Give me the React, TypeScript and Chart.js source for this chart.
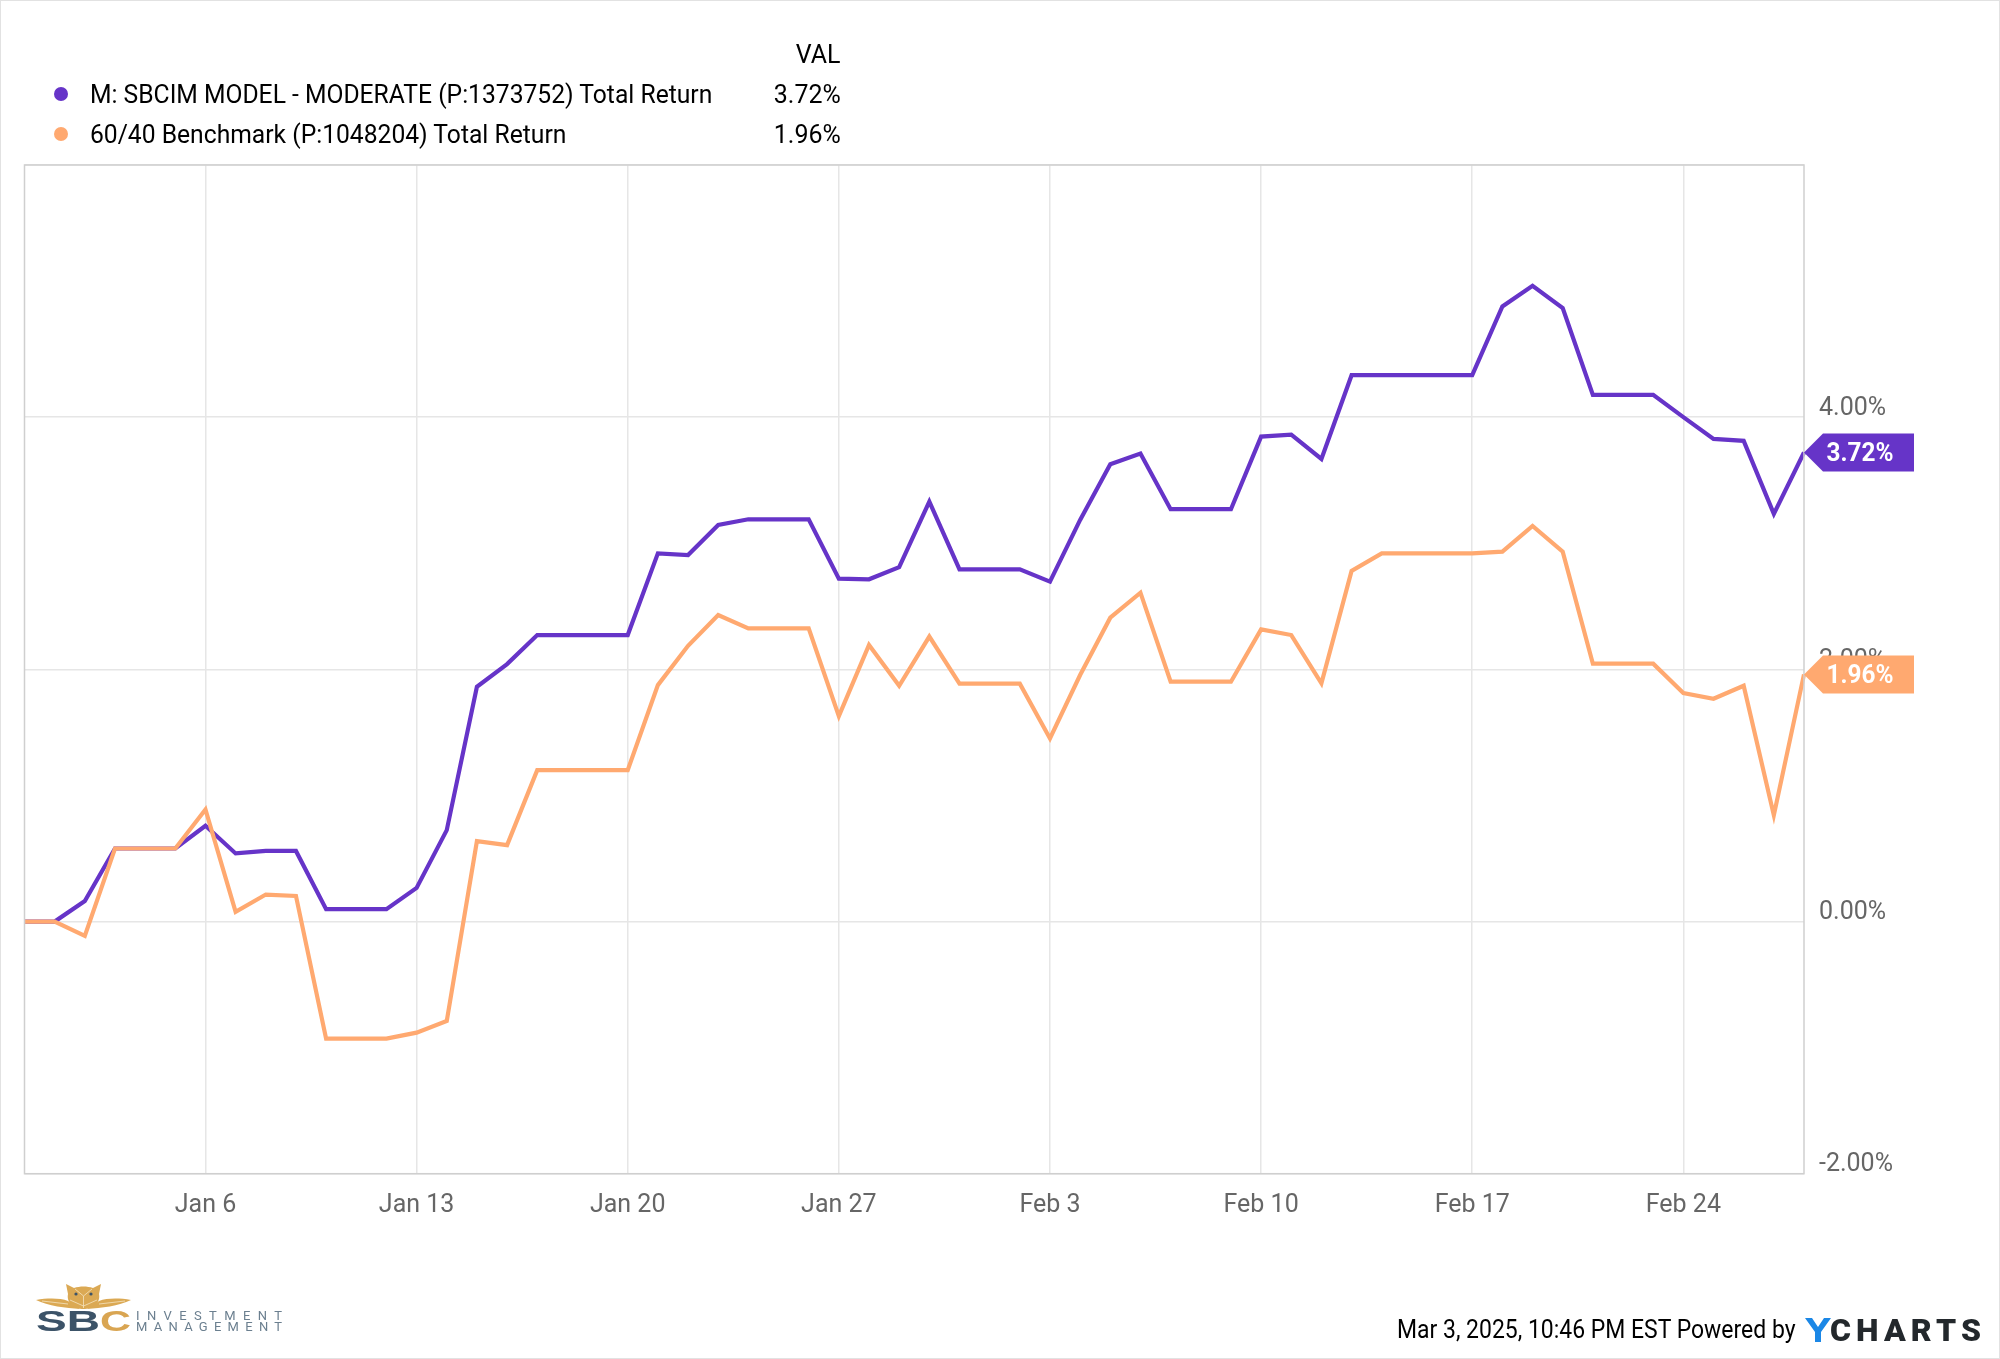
import React, { useEffect, useRef } from "react";
import { Chart, registerables } from "chart.js";

Chart.register(...registerables);

const dates = [
  "Dec 31","Jan 1","Jan 2","Jan 3","Jan 4","Jan 5","Jan 6","Jan 7","Jan 8","Jan 9","Jan 10","Jan 11","Jan 12","Jan 13","Jan 14",
  "Jan 15","Jan 16","Jan 17","Jan 18","Jan 19","Jan 20","Jan 21","Jan 22","Jan 23","Jan 24","Jan 25","Jan 26","Jan 27","Jan 28","Jan 29",
  "Jan 30","Jan 31","Feb 1","Feb 2","Feb 3","Feb 4","Feb 5","Feb 6","Feb 7","Feb 8","Feb 9","Feb 10","Feb 11","Feb 12","Feb 13",
  "Feb 14","Feb 15","Feb 16","Feb 17","Feb 18","Feb 19","Feb 20","Feb 21","Feb 22","Feb 23","Feb 24","Feb 25","Feb 26","Feb 27","Feb 28",
];
const weeklyTicks = ["Jan 6","Jan 13","Jan 20","Jan 27","Feb 3","Feb 10","Feb 17","Feb 24"];

const moderate = [
  0,0,0.163,0.579,0.579,0.579,0.759,0.54,0.56,0.56,0.098,0.098,0.098,0.267,0.725,
  1.862,2.042,2.272,2.272,2.272,2.272,2.92,2.907,3.145,3.19,3.19,3.19,2.719,2.714,2.81,
  3.33,2.793,2.793,2.793,2.696,3.185,3.627,3.711,3.27,3.27,3.27,3.846,3.862,3.669,4.333,
  4.333,4.333,4.333,4.333,4.878,5.042,4.865,4.177,4.177,4.177,4.0,3.828,3.812,3.233,3.72,
];
const benchmark = [
  0,0,-0.114,0.579,0.579,0.579,0.889,0.076,0.214,0.203,-0.929,-0.929,-0.929,-0.881,-0.789,
  0.637,0.606,1.201,1.201,1.201,1.201,1.875,2.187,2.431,2.325,2.325,2.325,1.629,2.193,1.87,
  2.26,1.886,1.886,1.886,1.452,1.955,2.41,2.608,1.902,1.902,1.902,2.317,2.272,1.889,2.78,
  2.92,2.92,2.92,2.92,2.933,3.137,2.933,2.045,2.045,2.045,1.812,1.767,1.87,0.844,1.96,
];

const seriesNames = ["M: SBCIM MODEL - MODERATE (P:1373752) Total Return", "60/40 Benchmark (P:1048204) Total Return"];
const lastValues = ["3.72%", "1.96%"];
const colors = ["#6634c8", "#ffa970"];
const footerText = "Mar 3, 2025, 10:46 PM EST Powered by";

const frame = {
  id: "frame",
  beforeDraw(chart: any) {
    const { ctx } = chart;
    ctx.save();
    ctx.fillStyle = "#fff";
    ctx.fillRect(0, 0, chart.width, chart.height);
    ctx.restore();
  },
  afterDatasetsDraw(chart: any) {
    const { ctx, chartArea: a } = chart;
    ctx.save();
    ctx.strokeStyle = "#cfcfcf";
    ctx.lineWidth = 1.5;
    ctx.strokeRect(a.left, a.top, a.right - a.left, a.bottom - a.top);
    ctx.restore();
  },
  afterDraw(chart: any) {
    const { ctx, chartArea: a, scales } = chart;
    const last = dates.length - 1;
    ctx.save();
    chart.data.datasets.forEach((d: any, i: number) => {
      const y = scales.y.getPixelForValue(d.data[last]);
      const h = 19;
      ctx.fillStyle = colors[i];
      ctx.beginPath();
      ctx.moveTo(a.right, y);
      ctx.lineTo(a.right + 19, y - h);
      ctx.lineTo(a.right + 110, y - h);
      ctx.lineTo(a.right + 110, y + h);
      ctx.lineTo(a.right + 19, y + h);
      ctx.closePath();
      ctx.fill();
      ctx.fillStyle = "#fff";
      ctx.font = "700 25px Roboto";
      ctx.textAlign = "center";
      ctx.textBaseline = "middle";
      ctx.fillText(lastValues[i], a.right + 56, y + 2, 67);
    });
    ctx.restore();
  },
};

function Logo() {
  return (
    <svg width="260" height="60" viewBox="0 0 260 60" style={{ position: "absolute", left: 30, top: 1280 }}>
      <g fill="#dba954">
        <path d="M6 20 C18 18 30 18 38 21 L50 29 C36 28 18 26 6 20 Z" />
        <path d="M101 20 C89 18 77 18 69 21 L57 29 C71 28 89 26 101 20 Z" />
        <path d="M36 4 L44 8 C50 6 57 6 63 8 L71 4 L69 14 C71 23 62 29 53.5 29 C45 29 36 23 38 14 Z" />
      </g>
      <g stroke="#f4e3c0" strokeWidth="0.8" fill="none">
        <path d="M45 9 L53.5 16 L62 9 M53.5 16 V28 M40 20 L53.5 26 L67 20" />
        <path d="M12 21 L38 24 M95 21 L69 24" />
      </g>
      <circle cx="46" cy="14" r="1.6" fill="#3c5368" />
      <circle cx="61" cy="14" r="1.6" fill="#3c5368" />
      <text x="6" y="51" fontFamily="Liberation Sans" fontWeight="700" fontSize="29" textLength="64" lengthAdjust="spacingAndGlyphs" fill="#3c5368">SB</text>
      <text x="70" y="51" fontFamily="Liberation Sans" fontWeight="700" fontSize="29" textLength="31" lengthAdjust="spacingAndGlyphs" fill="#d9a552">C</text>
      <text x="106" y="40" fontFamily="Roboto" fontSize="13" textLength="146" fill="#6b7f8f">INVESTMENT</text>
      <text x="106" y="51" fontFamily="Roboto" fontSize="13" textLength="146" fill="#6b7f8f">MANAGEMENT</text>
    </svg>
  );
}

export default function App() {
  const ref = useRef<HTMLCanvasElement>(null);
  useEffect(() => {
    const chart = new Chart(ref.current!, {
      type: "line",
      data: {
        labels: dates,
        datasets: [
          { label: seriesNames[0], data: moderate, borderColor: colors[0], borderWidth: 4.2, pointRadius: 0, tension: 0, order: 2 },
          { label: seriesNames[1], data: benchmark, borderColor: colors[1], borderWidth: 4.2, pointRadius: 0, tension: 0, order: 1 },
        ],
      },
      options: {
        animation: false,
        responsive: false,
        layout: { padding: { left: 24.5, top: 165, right: 0, bottom: 0 } },
        plugins: { legend: { display: false }, tooltip: { enabled: false } },
        scales: {
          x: {
            type: "category",
            offset: false,
            afterBuildTicks(s: any) {
              s.ticks = weeklyTicks.map((l) => ({ value: dates.indexOf(l) }));
            },
            afterFit(s: any) {
              s.height = 185.3;
            },
            grid: { color: "#e6e6e6", lineWidth: 1.5, drawTicks: false },
            border: { display: false },
            ticks: {
              autoSkip: false,
              maxRotation: 0,
              padding: 17,
              color: "#666",
              font: { family: "Roboto", size: 25 },
              callback: (v: any) => dates[v],
            },
          },
          y: {
            position: "right",
            min: -2,
            max: 6,
            afterFit(s: any) {
              s.width = 196;
            },
            grid: { color: "#e6e6e6", lineWidth: 1.5, drawTicks: false },
            border: { display: false },
            ticks: {
              stepSize: 2,
              padding: 15,
              labelOffset: -8.5,
              color: "#666",
              font: { family: "Roboto", size: 25 },
              callback: (v: any) => (v === 6 ? "" : `${Number(v).toFixed(2)}%`),
            },
          },
        },
      },
      plugins: [frame],
    } as any);
    return () => chart.destroy();
  }, []);

  const textStyle: React.CSSProperties = {
    position: "absolute",
    fontFamily: "Roboto",
    fontSize: 26,
    lineHeight: "30px",
    color: "#000",
    whiteSpace: "nowrap",
  };
  const leftFit = (k: number): React.CSSProperties => ({ transform: `scaleX(${k})`, transformOrigin: "left center" });
  const rightFit = (k: number): React.CSSProperties => ({ transform: `scaleX(${k})`, transformOrigin: "right center" });

  return (
    <div style={{ position: "absolute", left: 0, top: 0, width: 2000, height: 1359, overflow: "hidden", background: "#fff" }}>
      <canvas ref={ref} width={2000} height={1359} style={{ display: "block", width: 2000, height: 1359 }} />
      <div style={{ position: "absolute", inset: 0, boxSizing: "border-box", border: "1.5px solid #e2e2e2", pointerEvents: "none" }} />
      <div style={{ ...textStyle, ...rightFit(0.96), right: 1159, top: 38.5 }}>VAL</div>
      {seriesNames.map((n, i) => (
        <React.Fragment key={n}>
          <div style={{ position: "absolute", left: 54, top: 87 + i * 40, width: 14, height: 14, borderRadius: 7, background: colors[i] }} />
          <div style={{ ...textStyle, ...leftFit(0.948), left: 90, top: 79 + i * 40 }}>{n}</div>
          <div style={{ ...textStyle, ...rightFit(0.96), right: 1159, top: 79 + i * 40 }}>{lastValues[i]}</div>
        </React.Fragment>
      ))}
      <Logo />
      <div style={{ ...textStyle, ...leftFit(0.883), left: 1397, top: 1314 }}>{footerText}</div>
      <svg width="180" height="30" viewBox="0 0 180 30" style={{ position: "absolute", left: 1804, top: 1315 }}>
        <path d="M1 3 H8 L14 12 L20 3 H27 L17 17 V27 H11 V17 Z" fill="#1b87e6" />
        <text x="26" y="26" fontFamily="Roboto" fontWeight="900" fontSize="32" textLength="151" fill="#23282c">CHARTS</text>
      </svg>
    </div>
  );
}
